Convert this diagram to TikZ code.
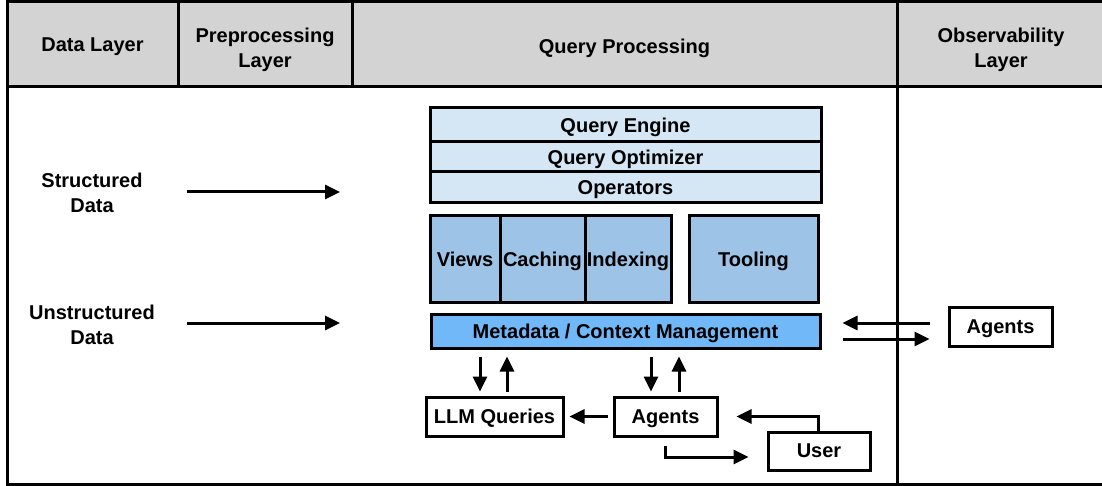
\documentclass[tikz,border=0pt]{standalone}
\usepackage{fontspec}
\setmainfont{Liberation Sans}
\usetikzlibrary{arrows.meta,calc}
\definecolor{hdrgray}{HTML}{D3D3D3}
\definecolor{lightblue}{HTML}{D5E7F5}
\definecolor{midblue}{HTML}{9DC3E6}
\definecolor{metablue}{HTML}{70B8F7}
\tikzset{
  lbl/.style={font=\fontsize{20}{25}\selectfont\bfseries, align=center, inner sep=0pt, text depth=0pt},
  box/.style={lbl, draw=black, line width=3pt, minimum width=#1},
  arr/.style={line width=3pt, -{Triangle[length=15pt,width=14pt]}},
  frame/.style={line width=3pt},
}
\begin{document}
\begin{tikzpicture}[x=1pt,y=-1pt]
\useasboundingbox (0,0) rectangle (1102,486);
% header
\fill[hdrgray] (7,2) rectangle (1108,87);
\draw[frame] (7,2) rectangle (1108,484);
\draw[frame] (7,87) -- (1108,87);
\draw[frame] (178,2) -- (178,87);
\draw[frame] (352,2) -- (352,87);
\draw[frame] (897,2) -- (897,484);
\node[lbl] (h1) at (92.5,45) {Data Layer};
\node[lbl] (h2) at (265,48) {Preprocessing\\Layer};
\node[lbl] (h3) at (624.5,46) {Query Processing};
\node[lbl] (h4) at (1001,48) {Observability\\Layer};
% data sources
\node[lbl] (sd) at (92,192.5) {Structured\\Data};
\node[lbl] (ud) at (92,325) {Unstructured\\Data};
\coordinate (sdS) at (187,192);
\coordinate (sdE) at (340,192);
\coordinate (udS) at (187,323);
\coordinate (udE) at (340,323);
\draw[arr] (sdS) -- (sdE);
\draw[arr] (udS) -- (udE);
% stack
\node[box=391pt, minimum height=34pt, fill=lightblue] (qe) at (625.5,125) {Query Engine};
\node[box=391pt, minimum height=30pt, fill=lightblue] (qo) at (625.5,157) {Query Optimizer};
\node[box=391pt, minimum height=31pt, fill=lightblue] (op) at (625.5,187.5) {Operators};
% second row
\node[box=70pt, minimum height=86pt, fill=midblue] (views) at (465,259) {Views};
\node[box=85pt, minimum height=86pt, fill=midblue] (cach) at (542.5,259) {Caching};
\node[box=86pt, minimum height=86pt, fill=midblue] (idx) at (628,259) {Indexing};
\node[box=129pt, minimum height=86pt, fill=midblue] (tool) at (753.5,259) {Tooling};
% metadata
\node[box=389pt, minimum height=34pt, fill=metablue] (meta) at (625.5,331) {Metadata / Context Management};
% bottom boxes
\node[box=137pt, minimum height=39pt, fill=white] (llm) at (494.5,416.5) {LLM Queries};
\node[box=103pt, minimum height=39pt, fill=white] (ag) at (665.5,416.5) {Agents};
\node[box=102pt, minimum height=38pt, fill=white] (user) at (819,451) {User};
\node[box=103pt, minimum height=39pt, fill=white] (agR) at (1000.5,326.5) {Agents};
% arrows meta <-> llm / agents
\draw[arr, shorten <=7pt, shorten >=4pt] ([xshift=-14.5pt]llm.north |- meta.south) -- ([xshift=-14.5pt]llm.north);
\draw[arr, shorten <=4pt, shorten >=7pt] ([xshift=12.5pt]llm.north) -- ([xshift=12.5pt]llm.north |- meta.south);
\draw[arr, shorten <=7pt, shorten >=4pt] ([xshift=-14.5pt]ag.north |- meta.south) -- ([xshift=-14.5pt]ag.north);
\draw[arr, shorten <=4pt, shorten >=7pt] ([xshift=13.5pt]ag.north) -- ([xshift=13.5pt]ag.north |- meta.south);
\draw[arr, shorten <=5pt, shorten >=5pt] (ag.west) -- (llm.east);
\draw[arr] ([xshift=-1pt]user.north) |- ([xshift=18pt]ag.east);
\draw[arr] ([yshift=-8pt]ag.south) |- ([xshift=-18pt,yshift=-6pt]user.west);
% meta <-> observability agents
\draw[arr] ($(meta.east)+(108,-8)$) -- ($(meta.east)+(21,-8)$);
\draw[arr] ($(meta.east)+(21,8)$) -- ($(meta.east)+(108,8)$);
\end{tikzpicture}
\end{document}
